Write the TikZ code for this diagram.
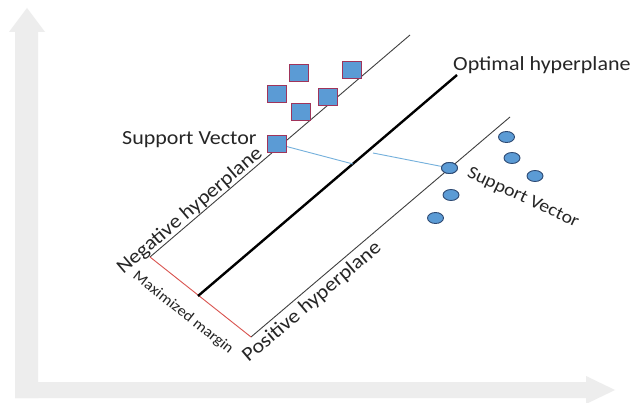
\documentclass[tikz,border=0pt]{standalone}
\usepackage{fontspec}
\setmainfont[FakeStretch=1.1]{Carlito}
\usetikzlibrary{shapes.geometric}
\definecolor{axisgray}{HTML}{EDEDED}
\definecolor{ptblue}{HTML}{5B9BD5}
\definecolor{sqborder}{HTML}{A0345A}
\definecolor{ciborder}{HTML}{2E4A73}
\definecolor{linkblue}{HTML}{74B0DC}
\definecolor{margred}{HTML}{D9534F}
\definecolor{planegray}{HTML}{404040}
\tikzset{
  sq/.style={rectangle, draw=sqborder, fill=ptblue, line width=1pt, minimum width=19pt, minimum height=17pt, inner sep=0pt},
  ci/.style={ellipse, draw=ciborder, fill=ptblue, line width=0.9pt, minimum width=16pt, minimum height=11pt, inner sep=0pt},
  plane/.style={draw=planegray, line width=0.9pt},
  optplane/.style={draw=black, line width=2.4pt},
  link/.style={draw=linkblue, line width=0.9pt},
  lbl/.style={font=\fontsize{20}{24}\selectfont, text=black!85, inner sep=0pt},
  smalllbl/.style={font=\fontsize{15}{18}\selectfont, text=black!85, inner sep=0pt},
}
\begin{document}
\begin{tikzpicture}[x=1pt, y=-1pt]
\useasboundingbox (0,0) rectangle (639,403);
\fill[white] (0,0) rectangle (639,403);
% axes
\fill[axisgray] (15,398) -- (15,32) -- (9,32) -- (27,8) -- (45,32) -- (38,32) -- (38,398) -- cycle;
\fill[axisgray] (15,382) -- (586,382) -- (586,376) -- (615,390) -- (586,404) -- (586,398) -- (15,398) -- cycle;
% hyperplane end points
\coordinate (nA) at (150,257);
\coordinate (nB) at (410,35);
\coordinate (oA) at (198,296);
\coordinate (oB) at (457,75);
\coordinate (pA) at (251,337);
\coordinate (pB) at (510,117);
\draw[plane] (nA) -- (nB);
\draw[plane] (pA) -- (pB);
\draw[margred, line width=0.9pt] (nA) -- (pA);
\draw[optplane] (oA) -- (oB);
% squares
\node[sq] (s1) at (298.5,73) {};
\node[sq] (s2) at (352,70.5) {};
\node[sq] (s3) at (277,94.5) {};
\node[sq] (s4) at (327.5,97) {};
\node[sq] (s5) at (300.5,112) {};
% circles
\node[ci] (c1) at (506.5,137) {};
\node[ci] (c2) at (512,158) {};
\node[ci] (c3) at (535,176) {};
\node[ci] (c5) at (451,195) {};
\node[ci] (c6) at (435.5,218) {};
% support vector links
\coordinate (m1) at (353,164);
\coordinate (m2) at (373,153);
\node[sq] (sv1) at (277,144) {};
\node[ci] (sv2) at (449.5,168) {};
\draw[link] (sv1) -- (m1);
\draw[link] (m2) -- (sv2);
\node[sq] at (sv1) {};
\node[ci] at (sv2) {};
% labels
\node[lbl, anchor=base west] (tsv1) at (122,145) {Support Vector};
\node[lbl, anchor=base west] (topt) at (453,70.5) {Optimal hyperplane};
\node[lbl, rotate=40.5] (tneg) at (190,211) {Negative hyperplane};
\node[lbl, rotate=40.3] (tpos) at (312,302) {Positive hyperplane};
\node[smalllbl, rotate=-38.4] (tmarg) at (183,313) {Maximized margin};
\node[lbl, font=\fontsize{18}{22}\selectfont, rotate=-25] (tsv2) at (523,198) {Support Vector};
\end{tikzpicture}
\end{document}
